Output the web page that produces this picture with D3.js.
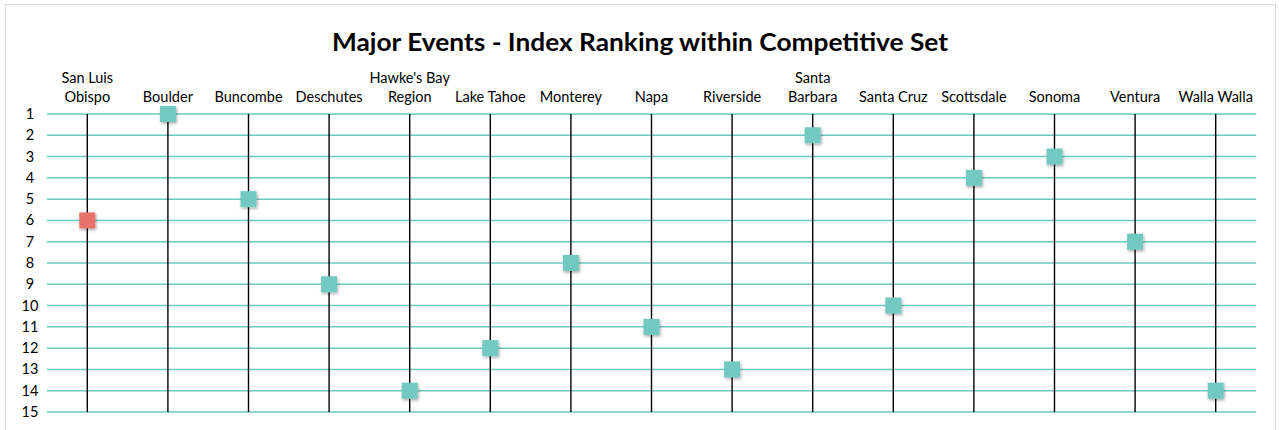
<!DOCTYPE html>
<html>
<head>
<meta charset="utf-8">
<script src="https://cdn.jsdelivr.net/npm/d3@7"></script>
<style>
  body { margin: 0; background: #fff; }
  text { font-family: Lato, "Open Sans", sans-serif; fill: #000; }
</style>
</head>
<body>
<svg id="chart"></svg>
<script>
var width = 1279, height = 430;

// data
var places = ["San Luis Obispo", "Boulder", "Buncombe", "Deschutes", "Hawke's Bay Region",
  "Lake Tahoe", "Monterey", "Napa", "Riverside", "Santa Barbara", "Santa Cruz",
  "Scottsdale", "Sonoma", "Ventura", "Walla Walla"];
var ranks = [6, 1, 5, 9, 14, 12, 8, 11, 13, 2, 10, 4, 3, 7, 14];
// labels as they wrap in the original
var placeLabels = [["San Luis", "Obispo"], ["Boulder"], ["Buncombe"], ["Deschutes"], ["Hawke's Bay", "Region"],
  ["Lake Tahoe"], ["Monterey"], ["Napa"], ["Riverside"], ["Santa", "Barbara"], ["Santa Cruz"],
  ["Scottsdale"], ["Sonoma"], ["Ventura"], ["Walla Walla"]];
var rankTicks = d3.range(1, 16);
var highlight = "San Luis Obispo";

var svg = d3.select("#chart").attr("width", width).attr("height", height);

// chart frame
svg.append("rect").attr("x", 5.5).attr("y", 4.5).attr("width", 1270).attr("height", 440)
  .attr("fill", "#fff").attr("stroke", "#d9d9d9");

var x = d3.scaleBand().domain(places).range([47, 1256]);
var y = d3.scaleLinear().domain([1, 15]).range([114, 412]);

var defs = svg.append("defs");
var f = defs.append("filter").attr("id", "shadow").attr("x", "-50%").attr("y", "-50%").attr("width", "200%").attr("height", "200%");
f.append("feDropShadow").attr("dx", 1).attr("dy", 1.5).attr("stdDeviation", 1.5).attr("flood-color", "#000").attr("flood-opacity", 0.35);

// title
svg.append("text").attr("x", 640).attr("y", 51).attr("text-anchor", "middle")
  .style("font-size", "25px").style("font-weight", "bold").attr("textLength", 616)
  .attr("lengthAdjust", "spacingAndGlyphs")
  .text("Major Events - Index Ranking within Competitive Set");

// horizontal gridlines
svg.append("g").selectAll("line").data(rankTicks).join("line")
  .attr("x1", 47).attr("x2", 1256)
  .attr("y1", d => y(d)).attr("y2", d => y(d))
  .attr("stroke", "#6fc9bf").attr("stroke-width", 1.5);

// y tick labels
svg.append("g").selectAll("text").data(rankTicks).join("text")
  .attr("x", 30).attr("y", d => y(d) + 5)
  .attr("text-anchor", "middle").style("font-size", "14.5px")
  .text(d => d);

// vertical drop lines
svg.append("g").selectAll("line").data(places).join("line")
  .attr("x1", d => x(d) + x.bandwidth() / 2).attr("x2", d => x(d) + x.bandwidth() / 2)
  .attr("y1", y(1)).attr("y2", y(15))
  .attr("stroke", "#000").attr("stroke-width", 1.4);

// category labels
var lab = svg.append("g").selectAll("text").data(places).join("text")
  .attr("text-anchor", "middle").style("font-size", "14.5px");
lab.each(function(d, i) {
  var lines = placeLabels[i];
  var cx = x(d) + x.bandwidth() / 2;
  var t = d3.select(this);
  lines.forEach(function(s, j) {
    t.append("tspan").attr("x", cx).attr("y", 102 - (lines.length - 1 - j) * 19).text(s);
  });
});

// markers
var sz = 16;
svg.append("g").selectAll("rect").data(places).join("rect")
  .attr("x", d => x(d) + x.bandwidth() / 2 - sz / 2)
  .attr("y", (d, i) => y(ranks[i]) - sz / 2)
  .attr("width", sz).attr("height", sz)
  .attr("fill", d => d === highlight ? "#e8736c" : "#72c9c1")
  .attr("filter", "url(#shadow)");
</script>
</body>
</html>
